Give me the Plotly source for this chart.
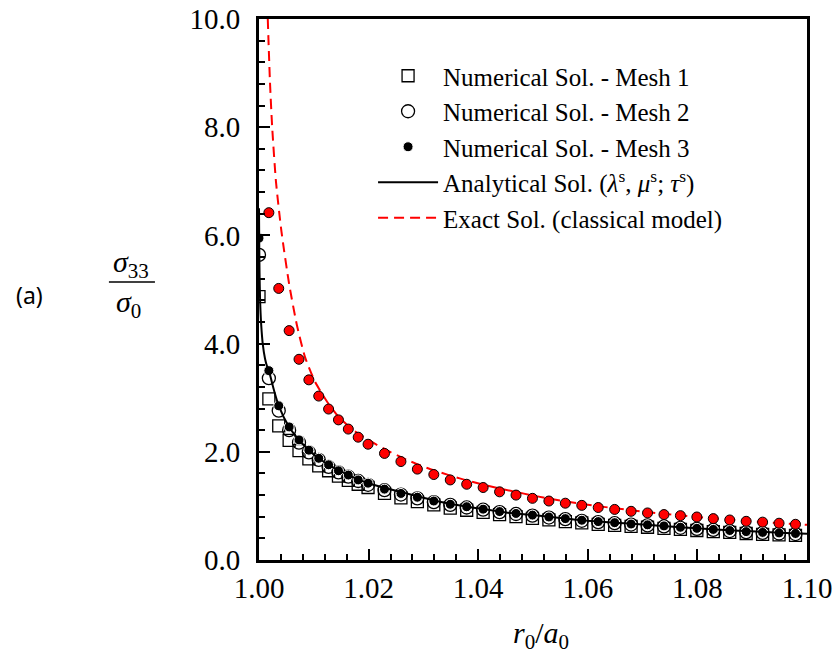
import plotly.graph_objects as go

# ---- numerical solutions (node positions r0/a0 and normalised stress) ----
x_mesh = [1.0000, 1.0018, 1.0036, 1.0055, 1.0073, 1.0091, 1.0109, 1.0127, 1.0145,
          1.0163, 1.0181, 1.0199, 1.0229, 1.0259, 1.0289, 1.0319, 1.0349, 1.0379,
          1.0409, 1.0439, 1.0469, 1.0499, 1.0529, 1.0559, 1.0589, 1.0619, 1.0649,
          1.0679, 1.0709, 1.0739, 1.0769, 1.0799, 1.0829, 1.0859, 1.0889, 1.0919,
          1.0949, 1.0979]

mesh1 = [4.87, 2.98, 2.48, 2.21, 2.02, 1.87, 1.74, 1.65, 1.55, 1.47, 1.40, 1.34,
         1.23, 1.15, 1.08, 1.02, 0.96, 0.92, 0.88, 0.84, 0.80, 0.77, 0.74, 0.71,
         0.685, 0.66, 0.64, 0.62, 0.605, 0.585, 0.565, 0.545, 0.525, 0.51, 0.49,
         0.475, 0.465, 0.455]

mesh2 = [5.64, 3.36, 2.76, 2.40, 2.17, 1.99, 1.85, 1.72, 1.62, 1.54, 1.46, 1.39,
         1.29, 1.21, 1.14, 1.07, 1.02, 0.97, 0.93, 0.885, 0.85, 0.82, 0.785, 0.755,
         0.725, 0.70, 0.68, 0.655, 0.64, 0.62, 0.595, 0.575, 0.555, 0.535, 0.515,
         0.50, 0.49, 0.48]

mesh3 = [5.95, 3.50, 2.85, 2.46, 2.22, 2.03, 1.88, 1.76, 1.65, 1.57, 1.48, 1.42,
         1.31, 1.23, 1.16, 1.09, 1.03, 0.985, 0.94, 0.895, 0.86, 0.83, 0.795, 0.765,
         0.735, 0.71, 0.69, 0.665, 0.65, 0.63, 0.605, 0.585, 0.565, 0.545, 0.525,
         0.51, 0.50, 0.49]

# classical-model numerical points (no surface effect)
x_classic = x_mesh[1:]
classic_pts = [6.42, 5.02, 4.24, 3.71, 3.33, 3.03, 2.79, 2.59, 2.42, 2.27, 2.14,
               1.97, 1.82, 1.68, 1.58, 1.48, 1.40, 1.34, 1.26, 1.20, 1.14, 1.09,
               1.05, 1.01, 0.97, 0.935, 0.90, 0.87, 0.84, 0.82, 0.795, 0.765, 0.74,
               0.715, 0.70, 0.68, 0.66]

# ---- analytical solution with surface parameters ----
x_analytic = [1.0000, 1.00005, 1.0001, 1.0002, 1.0004, 1.0007, 1.0011, 1.0015,
              1.0018, 1.0027, 1.0036, 1.0055, 1.0073, 1.0091, 1.0109, 1.0127,
              1.0145, 1.0163, 1.0181, 1.0199, 1.025, 1.030, 1.035, 1.040, 1.045,
              1.050, 1.055, 1.060, 1.065, 1.070, 1.075, 1.080, 1.085, 1.090,
              1.095, 1.100]
y_analytic = [6.50, 5.80, 5.30, 4.80, 4.35, 3.98, 3.72, 3.57, 3.50, 3.15, 2.85,
              2.46, 2.22, 2.03, 1.88, 1.76, 1.66, 1.57, 1.49, 1.42, 1.28, 1.15,
              1.035, 0.955, 0.88, 0.83, 0.775, 0.725, 0.69, 0.655, 0.62, 0.585,
              0.555, 0.53, 0.505, 0.485]

# ---- exact solution, classical model ----
x_exact = [1.0016, 1.0020, 1.0024, 1.0031, 1.0041, 1.0055, 1.0069, 1.0084, 1.0102,
           1.0124, 1.0145, 1.0172, 1.0203, 1.0233, 1.0270, 1.0307, 1.0349, 1.0383,
           1.0440, 1.0526, 1.0600, 1.0700, 1.0800, 1.0900, 1.1000]
y_exact = [10.0, 8.84, 8.01, 6.99, 6.07, 5.10, 4.35, 3.75, 3.30, 2.93, 2.65, 2.40,
           2.20, 2.03, 1.85, 1.70, 1.56, 1.46, 1.32, 1.14, 1.02, 0.895, 0.795,
           0.715, 0.65]

SERIF = "Liberation Serif, Times New Roman, serif"
SANS = "Noto Sans, DejaVu Sans, sans-serif"

fig = go.Figure()

fig.add_trace(go.Scatter(
    x=x_mesh, y=mesh1, mode="markers", name="Numerical Sol. - Mesh 1",
    marker=dict(symbol="square-open", size=12, color="black",
                line=dict(width=1.3, color="black")),
))
fig.add_trace(go.Scatter(
    x=x_mesh, y=mesh2, mode="markers", name="Numerical Sol. - Mesh 2",
    marker=dict(symbol="circle-open", size=13, color="black",
                line=dict(width=1.3, color="black")),
))
fig.add_trace(go.Scatter(
    x=x_mesh, y=mesh3, mode="markers", name="Numerical Sol. - Mesh 3",
    marker=dict(symbol="circle", size=10, color="black",
                line=dict(width=1, color="white")),
))
fig.add_trace(go.Scatter(
    x=x_analytic, y=y_analytic, mode="lines",
    name="Analytical Sol. (<i>λ</i><sup>s</sup>, <i>μ</i><sup>s</sup>; <i>τ</i><sup>s</sup>)",
    line=dict(color="black", width=2, shape="spline", smoothing=0.6),
))
fig.add_trace(go.Scatter(
    x=x_exact, y=y_exact, mode="lines", name="Exact Sol. (classical model)",
    line=dict(color="#ff0000", width=2, dash="10px,6px", shape="spline",
              smoothing=0.6),
))
fig.add_trace(go.Scatter(
    x=x_classic, y=classic_pts, mode="markers", showlegend=False,
    marker=dict(symbol="circle", size=10, color="#ff0000",
                line=dict(width=1, color="black")),
))

# plot-area geometry in pixels
L, R, T, B = 259, 806.7, 19, 560
W, H = 838, 661


def px_x(px):
    return (px - L) / (R - L)


def px_y(py):
    return (B - py) / (B - T)


tick_font = dict(family=SERIF, size=29, color="black")

axis_common = dict(
    showline=True, linecolor="black", linewidth=3, mirror=True,
    ticks="inside", ticklen=11, tickwidth=2, tickcolor="black",
    showgrid=False, zeroline=False, automargin=False,
    tickfont=tick_font,
)

fig.update_xaxes(
    range=[1.0, 1.1], tick0=1.0, dtick=0.02, tickformat=".2f",
    minor=dict(dtick=0.004, ticks="inside", ticklen=6, tickwidth=2,
               tickcolor="black", showgrid=False),
    ticklabelstandoff=0,
    **axis_common,
)
fig.update_yaxes(
    range=[0, 10], tick0=0, dtick=2, tickformat=".1f",
    minor=dict(dtick=0.4, ticks="inside", ticklen=6, tickwidth=2,
               tickcolor="black", showgrid=False),
    ticklabelstandoff=10,
    **axis_common,
)


def label(px, py, text, font):
    fig.add_annotation(x=px_x(px), y=px_y(py), xref="paper", yref="paper",
                       xanchor="center", yanchor="middle",
                       text=text, showarrow=False, font=font)


serif_big = dict(family=SERIF, size=30, color="black")

# y-axis label as a stacked fraction, plus the panel tag
label(131, 264, "<i>σ</i><sub>33</sub>", serif_big)
label(129, 304, "<i>σ</i><sub>0</sub>", serif_big)
fig.add_shape(type="line", xref="paper", yref="paper",
              x0=px_x(109), x1=px_x(155), y0=px_y(282), y1=px_y(282),
              line=dict(color="black", width=1.5))
label(30, 295, "(a)", dict(family=SANS, size=23, color="black"))

# x-axis label
label(541, 635, "<i>r</i><sub>0</sub>/<i>a</i><sub>0</sub>", serif_big)

fig.update_layout(
    width=W, height=H,
    margin=dict(l=L, r=W - R, t=T, b=H - B, pad=0, autoexpand=False),
    paper_bgcolor="white", plot_bgcolor="white",
    font=dict(family=SERIF, color="black"),
    showlegend=True,
    legend=dict(
        x=px_x(373), y=px_y(53), xanchor="left", yanchor="top",
        bgcolor="rgba(0,0,0,0)", borderwidth=0,
        font=dict(family=SERIF, size=25, color="black"),
        itemwidth=60, tracegroupgap=0,
    ),
)

fig.write_html("out.html")
